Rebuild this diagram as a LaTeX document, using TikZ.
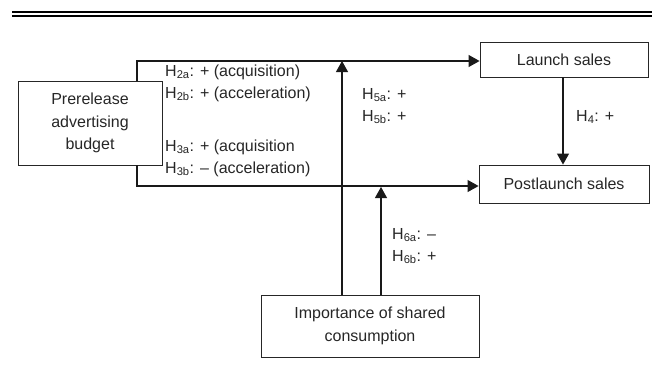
\documentclass[tikz,border=0pt]{standalone}
\usepackage{fontspec}
\setmainfont{Liberation Sans}
\usetikzlibrary{arrows.meta}
\newcommand{\Hs}[1]{H\textsubscript{#1}}
\begin{document}
\begin{tikzpicture}[x=1pt,y=-1pt,
  box/.style={draw=black!85,line width=0.9pt,rectangle,inner sep=0pt,align=center,
    font=\fontsize{16}{22.5}\selectfont,text=black!85},
  conn/.style={line width=1.1pt,draw=black!90},
  arr/.style={conn,-{Triangle[length=11pt,width=12pt]}},
  lbl/.style={anchor=west,inner sep=0pt,font=\fontsize{16}{22}\selectfont,text=black!85}]
\useasboundingbox (0,0) rectangle (652,378);
% double rule
\draw[line width=2pt] (12,12) -- (652,12);
\draw[line width=2pt] (12,15.5) -- (652,15.5);
% boxes
\node[box,minimum width=144pt,minimum height=84pt] (pre) at (90,123) {Prerelease\\advertising\\budget};
\node[box,minimum width=168pt,minimum height=35pt] (launch) at (564,59.5) {Launch sales};
\node[box,minimum width=170pt,minimum height=38pt] (post) at (564,184) {Postlaunch sales};
\node[box,minimum width=218pt,minimum height=62pt] (imp) at (370,326) {Importance of shared\\consumption};
% coordinates
\coordinate (c1) at (137,61);
\coordinate (c2) at (137,186);
\coordinate (c3) at (342,61);
\coordinate (c4) at (381,187);
% connectors
\draw[arr] (pre.north -| c1) -- (c1) -- (launch.west |- c1);
\draw[arr] (pre.south -| c2) -- (c2) -- (post.west |- c2);
\draw[arr] (imp.north -| c3) -- (c3);
\draw[arr] (imp.north -| c4) -- (c4);
\draw[arr] (launch.south -| 563,0) -- (post.north -| 563,0);
% labels
\node[lbl] (h2a) at (165,72) {\Hs{2a}: + (acquisition)};
\node[lbl] (h2b) at (165,94) {\Hs{2b}: + (acceleration)};
\node[lbl] (h3a) at (165,147) {\Hs{3a}: + (acquisition};
\node[lbl] (h3b) at (165,169) {\Hs{3b}: – (acceleration)};
\node[lbl] (h5a) at (362,95) {\Hs{5a}: +};
\node[lbl] (h5b) at (362,117) {\Hs{5b}: +};
\node[lbl] (h4) at (576,117) {\Hs{4}: +};
\node[lbl] (h6a) at (392,235) {\Hs{6a}: –};
\node[lbl] (h6b) at (392,257) {\Hs{6b}: +};
\end{tikzpicture}
\end{document}
